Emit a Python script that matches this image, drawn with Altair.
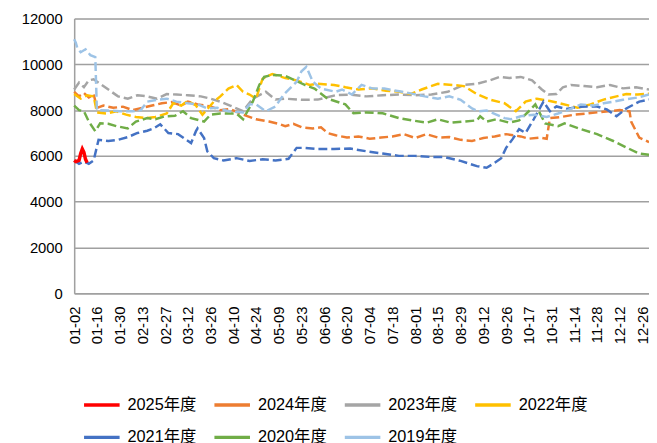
import altair as alt
import pandas as pd

# ---- data (row index along the season axis, value) ----
X_LABELS = ["01-02", "01-16", "01-30", "02-13", "02-27", "03-12", "03-26", "04-10",
            "04-24", "05-09", "05-23", "06-06", "06-20", "07-04", "07-18", "08-01",
            "08-15", "08-29", "09-12", "09-26", "10-17", "10-31", "11-14", "11-28",
            "12-12", "12-26"]

SERIES = ["2025年度", "2024年度", "2023年度", "2022年度", "2021年度", "2020年度", "2019年度"]
COLORS = ["#FF0000", "#ED7D31", "#A5A5A5", "#FFC000", "#4472C4", "#70AD47", "#9DC3E6"]

x2025 = [0, 1, 3, 4, 5, 6, 7, 8]
y2025 = [5800, 5750, 5800, 6100, 6300, 6150, 5850, 5700]

x2024 = [0, 3, 6, 9, 12, 14, 18, 24, 30, 36, 42, 48, 54, 60, 66, 70, 76, 84, 90, 96, 104, 112,
         120, 126, 130, 135, 140, 147, 152, 156, 161, 168, 175, 182, 189, 196, 203, 210, 217,
         224, 231, 238, 245, 252, 259, 266, 275, 280, 287, 291, 293, 300, 308, 315, 322, 329,
         336, 342, 343, 348, 354]
y2024 = [8800, 8600, 8750, 8550, 8700, 8100, 8200, 8100, 8150, 8000, 8100, 8200, 8300, 8350,
         8200, 8370, 8250, 8160, 8000, 8050, 7800, 7600, 7500, 7400, 7300, 7400, 7250, 7200,
         7250, 7000, 6900, 6800, 6850, 6750, 6800, 6850, 6950, 6780, 6950, 6800, 6820, 6700,
         6650, 6780, 6850, 6950, 6850, 6750, 6800, 6750, 7650, 7700, 7800, 7850, 7900, 7950,
         8000, 7950, 7500, 6800, 6600]

x2023 = [0, 3, 6, 9, 12, 27, 33, 39, 45, 51, 57, 63, 70, 78, 84, 90, 96, 104, 110, 118, 124,
         130, 140, 150, 161, 170, 180, 190, 200, 210, 220, 230, 240, 248, 256, 262, 268, 275,
         282, 288, 292, 297, 301, 306, 314, 322, 330, 338, 346, 354]
y2023 = [8900, 9200, 9000, 9300, 9350, 8600, 8500, 8650, 8600, 8500, 8700, 8680, 8650, 8600,
         8500, 8370, 8200, 7950, 8500, 8800, 8460, 8500, 8450, 8460, 8650, 8680, 8600, 8650,
         8680, 8650, 8680, 8800, 9100, 9150, 9300, 9450, 9400, 9450, 9300, 8900, 8680, 8700,
         9000, 9100, 9050, 9000, 9100, 8950, 9000, 8900]

x2022 = [0, 4, 8, 12, 14, 20, 26, 32, 38, 44, 50, 57, 61, 66, 70, 75, 79, 86, 90, 95, 100,
         104, 108, 112, 116, 122, 130, 137, 145, 150, 160, 167, 175, 183, 192, 200, 207, 214,
         224, 233, 240, 248, 256, 265, 272, 278, 285, 293, 299, 310, 318, 326, 334, 340, 347, 354]
y2022 = [8700, 8500, 8650, 8600, 7900, 7850, 7950, 7800, 7700, 7650, 7700, 7850, 8300, 8200,
         8400, 8200, 7800, 8370, 8600, 8940, 9100, 8800, 8680, 8500, 9370, 9580, 9400, 9300,
         9100, 9150, 9100, 9000, 8900, 8950, 8850, 8800, 8700, 8900, 9150, 9100, 9050, 8700,
         8460, 8300, 7950, 8370, 8500, 8400, 8300, 8100, 8250, 8460, 8600, 8700, 8680, 8720]

x2021 = [0, 3, 6, 9, 12, 15, 21, 27, 33, 39, 45, 49, 53, 58, 64, 68, 72, 75, 76, 80, 82, 86,
         92, 100, 108, 116, 124, 132, 137, 142, 150, 160, 170, 180, 190, 200, 210, 220, 228,
         238, 248, 254, 259, 263, 266, 270, 274, 278, 283, 289, 293, 297, 303, 312, 322, 328,
         334, 340, 348, 354]
y2021 = [5800, 5650, 5750, 5650, 5800, 6700, 6650, 6700, 6820, 7000, 7100, 7200, 7380, 7000,
         6950, 6750, 6560, 7080, 7200, 6780, 6200, 5900, 5800, 5900, 5780, 5850, 5800, 5870,
         6350, 6350, 6300, 6300, 6320, 6200, 6100, 6000, 6000, 5950, 5950, 5780, 5550, 5480,
         5700, 5900, 6350, 6730, 7170, 7000, 7600, 8370, 7950, 8160, 8050, 8150, 8160, 8030,
         7730, 8070, 8370, 8460]

x2020 = [0, 3, 6, 9, 13, 16, 21, 26, 33, 38, 45, 50, 56, 62, 67, 72, 80, 84, 90, 100, 104,
         110, 114, 117, 122, 130, 136, 142, 148, 156, 167, 172, 180, 190, 200, 208, 217, 224,
         232, 240, 248, 250, 254, 260, 268, 274, 280, 284, 290, 298, 302, 312, 322, 332, 342,
         348, 354]
y2020 = [8200, 8000, 7950, 7500, 7080, 7420, 7400, 7300, 7200, 7500, 7650, 7600, 7730, 7750,
         7950, 7650, 7500, 7800, 7850, 7850, 7600, 8370, 9100, 9450, 9540, 9500, 9300, 9100,
         8940, 8500, 8250, 7860, 7900, 7860, 7650, 7550, 7450, 7600, 7450, 7500, 7550, 7730,
         7500, 7600, 7450, 7550, 7950, 8250, 7420, 7300, 7420, 7170, 6950, 6650, 6300, 6100,
         6050]

x2019 = [0, 1, 2, 4, 7, 10, 13, 14, 21, 28, 36, 41, 45, 51, 57, 63, 70, 76, 82, 88, 95, 104,
         108, 112, 118, 124, 129, 135, 137, 140, 143, 147, 152, 161, 165, 171, 177, 184, 191,
         202, 208, 216, 224, 231, 238, 245, 249, 254, 260, 265, 269, 275, 283, 291, 298, 304,
         312, 320, 326, 332, 338, 347, 354]
y2019 = [11100, 10950, 10700, 10530, 10660, 10400, 10320, 8000, 7980, 7950, 7950, 8000, 8370,
         8450, 8500, 8370, 8300, 8250, 8070, 8100, 7950, 7900, 8250, 8250, 7950, 8160, 8680,
         9100, 9240, 9700, 9890, 9240, 8940, 8800, 8900, 8680, 9100, 8940, 8940, 8800, 8720,
         8600, 8500, 8600, 8450, 8070, 7950, 7980, 7800, 7650, 7600, 7730, 7800, 7700, 7850,
         8000, 8250, 8200, 8300, 8370, 8450, 8550, 8680]

XS = [x2025, x2024, x2023, x2022, x2021, x2020, x2019]
YS = [y2025, y2024, y2023, y2022, y2021, y2020, y2019]

rows = []
for name, xs, ys in zip(SERIES, XS, YS):
    for i, v in zip(xs, ys):
        rows.append({"series": name, "idx": i, "value": v})
df = pd.DataFrame(rows)

FONT = "Liberation Sans, Arial, Noto Sans CJK SC"
label_arr = "[" + ",".join("'" + s + "'" for s in X_LABELS) + "]"
tick_vals = [14 * k for k in range(len(X_LABELS))]

x_enc = alt.X("idx:Q", scale=alt.Scale(domain=[0, 354], nice=False, zero=False),
              axis=alt.Axis(values=tick_vals, labelExpr=label_arr + "[round(datum.value/14)]",
                            labelAngle=270, labelFontSize=15, labelFont=FONT,
                            labelColor="#000000", labelPadding=13, ticks=False, grid=False,
                            domainColor="#A0A0A0", domainWidth=1.5, title=None,
                            labelOverlap=False))
y_enc = alt.Y("value:Q", scale=alt.Scale(domain=[0, 12000], nice=False),
              axis=alt.Axis(values=list(range(0, 12001, 2000)), format="d",
                            labelFontSize=15, labelFont=FONT, labelColor="#000000",
                            labelPadding=12, ticks=False, grid=True, gridColor="#A0A0A0",
                            gridWidth=1.5, domainColor="#A0A0A0", domainWidth=1.5,
                            title=None))

color_enc = alt.Color(
    "series:N",
    scale=alt.Scale(domain=SERIES, range=COLORS),
    sort=SERIES,
    legend=alt.Legend(title=None, orient="none", legendX=8, legendY=371, columns=4,
                      direction="horizontal",
                      symbolType="stroke", symbolSize=1296, symbolStrokeWidth=3.5,
                      symbolDash=[40, 0], labelFontSize=16.5, labelFont=FONT,
                      labelColor="#000000", columnPadding=11, rowPadding=4,
                      labelOffset=6, padding=0),
)

base = alt.Chart(df)
dashed = base.transform_filter(alt.datum.series != "2025年度").mark_line(
    strokeWidth=2.5, strokeDash=[9, 4]
).encode(x=x_enc, y=y_enc, color=color_enc, detail="series:N")
solid = base.transform_filter(alt.datum.series == "2025年度").mark_line(
    strokeWidth=3.5
).encode(x=x_enc, y=y_enc, color=color_enc)

chart = alt.layer(dashed, solid).properties(
    width=582, height=278,
    autosize=alt.AutoSizeParams(type="none"),
    padding={"left": 67, "top": 8, "right": 0, "bottom": 149},
).configure_view(stroke=None).configure(background="#FFFFFF")

chart.save("out.html", embed_options={"renderer": "svg", "actions": False})
